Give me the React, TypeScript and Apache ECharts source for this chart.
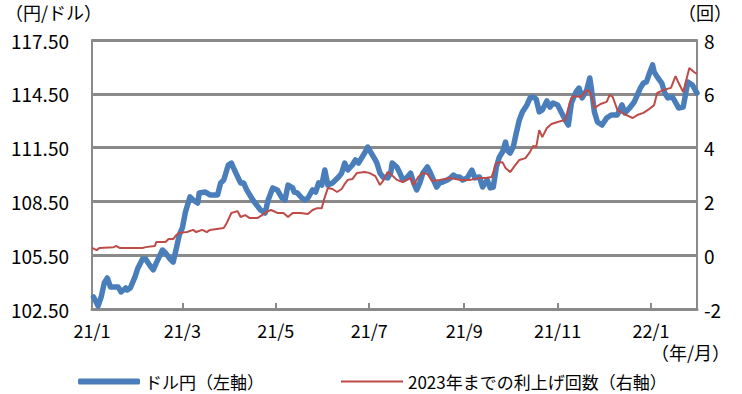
import React, { useEffect, useRef } from "react";
import * as echarts from "echarts";

// USD/JPY (left axis, yen per dollar)
const fxDates = [
  "2021-01-02","2021-01-05","2021-01-07","2021-01-09","2021-01-11","2021-01-13","2021-01-16","2021-01-18","2021-01-20","2021-01-23",
  "2021-01-24","2021-01-26","2021-01-29","2021-01-31","2021-02-03","2021-02-05","2021-02-08","2021-02-10","2021-02-12","2021-02-16",
  "2021-02-18","2021-02-21","2021-02-23","2021-02-25","2021-02-27","2021-03-01","2021-03-03","2021-03-06","2021-03-08","2021-03-11",
  "2021-03-12","2021-03-16","2021-03-19","2021-03-24","2021-03-26","2021-03-28","2021-03-31","2021-04-02","2021-04-04","2021-04-08",
  "2021-04-10","2021-04-12","2021-04-16","2021-04-21","2021-04-24","2021-04-26","2021-04-29","2021-05-02","2021-05-05","2021-05-07",
  "2021-05-09","2021-05-12","2021-05-13","2021-05-15","2021-05-18","2021-05-20","2021-05-22","2021-05-25","2021-05-27","2021-05-29",
  "2021-05-31","2021-06-02","2021-06-04","2021-06-07","2021-06-09","2021-06-11","2021-06-13","2021-06-15","2021-06-17","2021-06-20",
  "2021-06-22","2021-06-24","2021-06-26","2021-06-28","2021-06-30","2021-07-03","2021-07-05","2021-07-06","2021-07-08","2021-07-10",
  "2021-07-13","2021-07-15","2021-07-16","2021-07-19","2021-07-21","2021-07-23","2021-07-26","2021-07-28","2021-07-30","2021-08-01",
  "2021-08-03","2021-08-05","2021-08-08","2021-08-10","2021-08-12","2021-08-14","2021-08-16","2021-08-18","2021-08-21","2021-08-23",
  "2021-08-25","2021-08-27","2021-08-29","2021-08-31","2021-09-03","2021-09-06","2021-09-08","2021-09-11","2021-09-13","2021-09-16",
  "2021-09-18","2021-09-20","2021-09-22","2021-09-24","2021-09-26","2021-09-28","2021-09-29","2021-10-01","2021-10-03","2021-10-05",
  "2021-10-07","2021-10-09","2021-10-12","2021-10-14","2021-10-16","2021-10-18","2021-10-20","2021-10-22","2021-10-25","2021-10-27",
  "2021-10-29","2021-11-01","2021-11-02","2021-11-06","2021-11-08","2021-11-10","2021-11-13","2021-11-15","2021-11-17","2021-11-20",
  "2021-11-22","2021-11-23","2021-11-25","2021-11-27","2021-11-30","2021-12-03","2021-12-06","2021-12-10","2021-12-13","2021-12-15",
  "2021-12-18","2021-12-21","2021-12-25","2021-12-27","2021-12-29","2021-12-31","2022-01-02","2022-01-03","2022-01-05","2022-01-08",
  "2022-01-10","2022-01-12","2022-01-15","2022-01-19","2022-01-22","2022-01-25","2022-01-28","2022-01-31",
];
const fxValues = [
  103.17,102.67,103.17,103.95,104.23,103.73,103.73,103.73,103.45,103.67,
  103.56,103.67,104.28,104.79,105.29,105.29,104.90,104.68,105.07,105.79,
  105.62,105.29,105.12,105.85,106.63,107.02,107.91,108.75,108.58,108.41,
  108.97,109.02,108.86,108.86,109.53,109.69,110.53,110.64,110.25,109.53,
  109.53,109.14,108.58,108.02,107.85,108.58,109.25,109.14,108.69,108.58,
  109.41,109.25,109.02,108.97,108.69,108.58,108.69,109.14,109.02,109.53,
  109.41,110.25,109.41,109.53,109.69,109.86,110.08,110.64,110.25,110.53,
  110.81,110.64,110.92,111.20,111.53,111.09,110.81,110.64,110.08,109.86,
  109.81,110.08,110.64,110.42,110.08,109.69,109.86,110.08,109.53,109.14,
  109.53,110.08,110.42,110.08,109.69,109.30,109.53,109.58,109.69,109.81,
  109.97,109.86,109.86,109.69,109.81,110.25,109.81,109.86,109.30,109.69,
  109.25,109.30,110.42,110.98,111.25,111.81,111.37,111.20,111.53,112.31,
  113.04,113.49,113.88,114.27,114.32,114.21,113.49,113.60,114.10,113.76,
  113.99,113.88,113.71,113.04,112.76,113.99,114.60,114.82,114.27,114.71,
  115.38,114.82,113.49,112.93,112.76,113.15,113.32,113.32,113.88,113.43,
  113.71,114.04,114.82,115.10,115.16,115.66,116.11,115.72,115.44,115.10,
  114.54,114.27,114.32,113.71,113.76,115.16,114.99,114.54,
];

// Number of rate hikes priced in until 2023 (right axis)
const hikeDates = [
  "2021-01-01","2021-01-04","2021-01-06","2021-01-15","2021-01-17","2021-01-19","2021-02-03","2021-02-05","2021-02-11","2021-02-12",
  "2021-02-18","2021-02-20","2021-02-23","2021-02-25","2021-02-27","2021-03-04","2021-03-08","2021-03-10","2021-03-14","2021-03-17",
  "2021-03-19","2021-03-28","2021-03-30","2021-04-02","2021-04-06","2021-04-08","2021-04-11","2021-04-14","2021-04-19","2021-04-22",
  "2021-04-25","2021-04-28","2021-05-02","2021-05-06","2021-05-09","2021-05-12","2021-05-17","2021-05-22","2021-05-25","2021-05-28",
  "2021-05-31","2021-06-02","2021-06-04","2021-06-07","2021-06-10","2021-06-13","2021-06-15","2021-06-17","2021-06-20","2021-06-23",
  "2021-06-28","2021-07-01","2021-07-05","2021-07-08","2021-07-10","2021-07-13","2021-07-15","2021-07-19","2021-07-23","2021-07-28",
  "2021-07-30","2021-08-02","2021-08-05","2021-08-08","2021-08-11","2021-08-16","2021-08-23","2021-08-29","2021-09-05","2021-09-11",
  "2021-09-15","2021-09-19","2021-09-22","2021-09-26","2021-09-28","2021-10-01","2021-10-04","2021-10-07","2021-10-11","2021-10-14",
  "2021-10-16","2021-10-18","2021-10-20","2021-10-22","2021-10-25","2021-10-28","2021-11-01","2021-11-06","2021-11-08","2021-11-10",
  "2021-11-12","2021-11-16","2021-11-19","2021-11-21","2021-11-23","2021-11-25","2021-11-29","2021-12-03","2021-12-05","2021-12-07",
  "2021-12-10","2021-12-13","2021-12-16","2021-12-20","2021-12-23","2021-12-27","2021-12-30","2022-01-03","2022-01-05","2022-01-09",
  "2022-01-14","2022-01-17","2022-01-19","2022-01-22","2022-01-26","2022-01-29","2022-01-31",
];
const hikeValues = [
  0.27,0.19,0.27,0.30,0.34,0.27,0.27,0.30,0.34,0.49,
  0.49,0.60,0.60,0.75,0.83,0.86,0.94,0.86,0.94,0.86,
  0.94,1.01,1.20,1.57,1.64,1.42,1.49,1.38,1.38,1.49,
  1.61,1.68,1.57,1.57,1.42,1.57,1.57,1.53,1.68,1.75,
  1.75,2.16,2.50,2.46,2.35,2.46,2.65,2.80,2.83,3.06,
  3.09,3.06,2.94,2.61,2.76,3.09,3.02,2.80,2.72,2.87,
  2.61,2.91,3.06,3.02,2.76,2.80,2.87,2.80,2.80,2.87,
  2.87,2.91,3.43,3.46,3.24,3.09,3.32,3.54,3.61,3.84,
  4.06,4.02,4.65,4.39,4.73,4.88,4.95,5.03,5.47,5.84,
  5.92,5.88,6.07,6.14,5.96,5.47,5.62,5.70,5.96,5.88,
  5.40,5.29,5.21,5.10,5.21,5.29,5.40,5.58,6.03,6.14,
  6.22,6.66,6.40,6.07,6.96,6.81,6.74,
];

const yenMin = 102.5;
const yenMax = 117.5;
const yenStep = 3;
const hikeMin = -2;
const hikeMax = 8;
const hikeStep = 2;
const axisStart = "2021-01-01";
const axisEnd = "2022-01-31";
const monthTickDates = ["2021-01-01", "2021-03-01", "2021-05-01", "2021-07-01", "2021-09-01", "2021-11-01", "2022-01-01"];
const monthTickLabels = ["21/1", "21/3", "21/5", "21/7", "21/9", "21/11", "22/1"];

const FX_NAME = "ドル円（左軸）";
const HIKE_NAME = "2023年までの利上げ回数（右軸）";
const FONT = "'Noto Sans CJK JP', 'Noto Sans', sans-serif";
const GRID_COLOR = "#8a8a8a";

export default function App() {
  const ref = useRef<HTMLDivElement>(null);
  useEffect(() => {
    if (!ref.current) return;
    const chart = echarts.init(ref.current, null, { renderer: "svg" });
    const tickTimes = monthTickDates.map((d) => Date.parse(d));
    const labelFor = (v: number) => {
      const i = tickTimes.indexOf(v);
      return i >= 0 ? monthTickLabels[i] : "";
    };
    chart.setOption({
      animation: false,
      textStyle: { fontFamily: FONT },
      grid: { left: 92, right: 45, top: 40, bottom: 85, containLabel: false },
      legend: [
        {
          data: [FX_NAME],
          left: 73,
          top: 368,
          icon: "roundRect",
          itemWidth: 62,
          itemHeight: 6,
          textStyle: { fontSize: 17, color: "#000", fontFamily: FONT },
          selectedMode: false,
        },
        {
          data: [HIKE_NAME],
          left: 336,
          top: 368,
          icon: "rect",
          itemWidth: 62,
          itemHeight: 2,
          textStyle: { fontSize: 17, color: "#000", fontFamily: FONT },
          selectedMode: false,
        },
      ],
      xAxis: {
        type: "value",
        min: Date.parse(axisStart),
        max: Date.parse(axisEnd),
        splitLine: { show: false },
        axisLine: { show: true, lineStyle: { color: GRID_COLOR, width: 3 } },
        axisTick: { show: true, inside: true, length: 6, customValues: tickTimes, lineStyle: { color: GRID_COLOR, width: 2 } },
        axisLabel: {
          customValues: tickTimes,
          formatter: (v: number) => labelFor(v),
          fontSize: 18,
          color: "#000",
          margin: 12,
          fontFamily: FONT,
        },
      },
      yAxis: [
        {
          type: "value",
          position: "left",
          min: 0,
          max: yenMax - yenMin,
          interval: yenStep,
          axisLine: { show: true, lineStyle: { color: GRID_COLOR, width: 2 } },
          axisTick: { show: false },
          splitLine: { show: true, lineStyle: { color: GRID_COLOR, width: 3 } },
          axisLabel: {
            formatter: (v: number) => (v + yenMin).toFixed(2),
            fontSize: 19,
            color: "#000",
            margin: 23,
            fontFamily: FONT,
          },
        },
        {
          type: "value",
          position: "right",
          min: hikeMin,
          max: hikeMax,
          interval: hikeStep,
          axisLine: { show: true, lineStyle: { color: GRID_COLOR, width: 2 } },
          axisTick: { show: false },
          splitLine: { show: false },
          axisLabel: { fontSize: 19, color: "#000", margin: 7, fontFamily: FONT },
        },
      ],
      graphic: [
        { type: "text", left: 5, top: 3, style: { text: "（円/ドル）", fontSize: 18, fill: "#000", fontFamily: FONT } },
        { type: "text", right: 10, top: 3, style: { text: "（回）", fontSize: 18, fill: "#000", fontFamily: FONT } },
        { type: "text", right: 12, top: 343, style: { text: "（年/月）", fontSize: 18, fill: "#000", fontFamily: FONT } },
      ],
      series: [
        {
          name: FX_NAME,
          type: "line",
          yAxisIndex: 0,
          showSymbol: false,
          symbol: "none",
          color: "#4a7ebb",
          itemStyle: { color: "#4a7ebb" },
          lineStyle: { color: "#4a7ebb", width: 5.5, cap: "round", join: "round" },
          data: fxDates.map((d, i) => [Date.parse(d), fxValues[i] - yenMin]),
        },
        {
          name: HIKE_NAME,
          type: "line",
          yAxisIndex: 1,
          showSymbol: false,
          symbol: "none",
          color: "#be4b48",
          itemStyle: { color: "#be4b48" },
          lineStyle: { color: "#be4b48", width: 2 },
          data: hikeDates.map((d, i) => [Date.parse(d), hikeValues[i]]),
        },
      ],
    });
    return () => chart.dispose();
  }, []);
  return (
    <div
      ref={ref}
      style={{ position: "fixed", left: 0, top: 0, width: 742, height: 394, background: "#fff" }}
    />
  );
}
